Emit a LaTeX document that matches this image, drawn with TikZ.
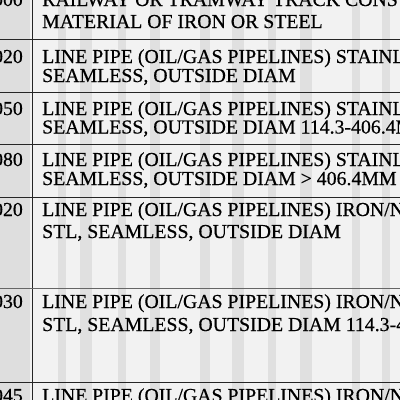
\documentclass[tikz,border=0pt]{standalone}
\usepackage{fontspec}
\setmainfont{Liberation Serif}
\newfontfamily\scanfont[FakeBold=0.5]{Liberation Serif}
\tikzset{
	desc/.style={anchor=base west, inner sep=0pt, font=\scanfont\fontsize{19.8}{22}\selectfont},
	code/.style={anchor=base east, inner sep=0pt, font=\scanfont\fontsize{19.8}{22}\selectfont},
	rule/.style={line width=0.9pt, color=black!85},
	streak/.style={fill=black, opacity=0.07}
}
\begin{document}
\begin{tikzpicture}[x=1pt, y=-1pt]
		%%%%% START %%%%%
		
		\useasboundingbox (0, 0) rectangle (400, 400);
		\clip (0, 0) rectangle (400, 400);
		\fill[black!5] (0, 0) rectangle (400, 400);
		
		% scanner streaks
		\fill[black!18, opacity=0.6] (0, 0) rectangle (30, 400);
		\fill[streak] (58, 0) rectangle (66, 400);
		\fill[streak] (80, 0) rectangle (92, 400);
		\fill[streak] (118, 0) rectangle (126, 400);
		\fill[streak] (150, 0) rectangle (160, 400);
		\fill[streak] (200, 0) rectangle (210, 400);
		\fill[streak] (232, 0) rectangle (244, 400);
		\fill[streak] (268, 0) rectangle (276, 400);
		\fill[streak] (300, 0) rectangle (312, 400);
		\fill[streak] (352, 0) rectangle (360, 400);
		\fill[streak] (382, 0) rectangle (390, 400);
		
		% table rules
		\draw[rule] (32.5, 0) -- (32.5, 400);
		\draw[rule] (0, 39) -- (400, 39);
		\draw[rule] (0, 92) -- (400, 92);
		\draw[rule] (0, 144.5) -- (400, 144.5);
		\draw[rule] (0, 197) -- (400, 197);
		\draw[rule, color=black!60] (0, 288.5) -- (400, 288.5);
		\draw[rule] (0, 382) -- (400, 382);
		
		% codes
		\node[code] (c0) at (23, 6) {000};
		\node[code] (c1) at (23, 63) {020};
		\node[code] (c2) at (23, 115) {050};
		\node[code] (c3) at (23, 166) {080};
		\node[code] (c4) at (23, 216) {020};
		\node[code] (c5) at (23, 308) {030};
		\node[code] (c6) at (23, 402) {045};
		
		% descriptions
		\node[desc] (d0a) at (42, 6) {RAILWAY OR TRAMWAY TRACK CONSTRUCTION};
		\node[desc] (d0b) at (42, 28) {MATERIAL OF IRON OR STEEL};
		
		\node[desc] (d1a) at (42, 63) {LINE PIPE (OIL/GAS PIPELINES) STAINLESS};
		\node[desc] (d1b) at (42, 82) {SEAMLESS, OUTSIDE DIAM};
		
		\node[desc] (d2a) at (42, 115) {LINE PIPE (OIL/GAS PIPELINES) STAINLESS};
		\node[desc] (d2b) at (42, 133.5) {SEAMLESS, OUTSIDE DIAM 114.3-406.4MM};
		
		\node[desc] (d3a) at (42, 166) {LINE PIPE (OIL/GAS PIPELINES) STAINLESS};
		\node[desc] (d3b) at (42, 185) {SEAMLESS, OUTSIDE DIAM > 406.4MM};
		
		\node[desc] (d4a) at (42, 216) {LINE PIPE (OIL/GAS PIPELINES) IRON/NONALLOY};
		\node[desc] (d4b) at (42, 238) {STL, SEAMLESS, OUTSIDE DIAM};
		
		\node[desc] (d5a) at (42, 308) {LINE PIPE (OIL/GAS PIPELINES) IRON/NONALLOY};
		\node[desc] (d5b) at (42, 331) {STL, SEAMLESS, OUTSIDE DIAM 114.3-406.4MM};
		
		\node[desc] (d6a) at (42, 402) {LINE PIPE (OIL/GAS PIPELINES) IRON/NONALLOY};
		
		%%%%% END %%%%%
\end{tikzpicture}
\end{document}
